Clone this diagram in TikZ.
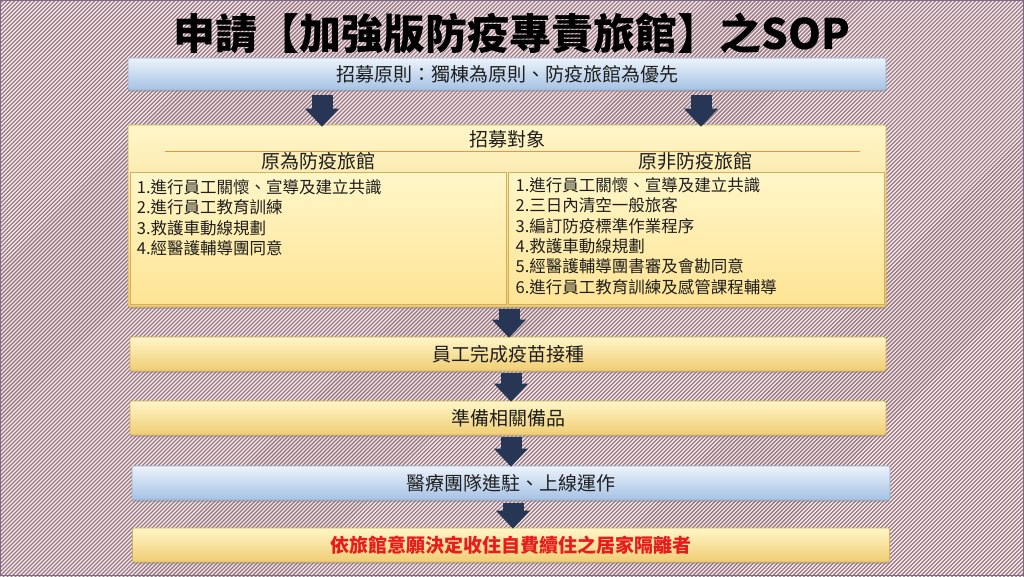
\documentclass[tikz,border=0pt]{standalone}
\usepackage{fontspec}
\setmainfont{Noto Sans CJK TC}
\usepackage{xcolor}
\usepackage{tikz}
\usetikzlibrary{positioning, patterns.meta, shadows, arrows.meta}

\definecolor{fondclair}{RGB}{250,236,238}
\definecolor{fondraye}{RGB}{150,120,128}
\definecolor{cadre}{RGB}{125,105,135}
\definecolor{jauneA}{RGB}{255,246,200}
\definecolor{jauneB}{RGB}{254,228,148}
\definecolor{jauneC}{RGB}{240,205,115}
\definecolor{jauneBord}{RGB}{212,175,90}
\definecolor{bleuA}{RGB}{236,243,251}
\definecolor{bleuB}{RGB}{204,222,241}
\definecolor{bleuC}{RGB}{165,194,228}
\definecolor{bleuBord}{RGB}{150,175,208}
\definecolor{marine}{RGB}{38,54,84}
\definecolor{texte}{RGB}{30,30,30}
\definecolor{rouge}{RGB}{232,28,28}
\definecolor{orange}{RGB}{228,150,70}

\begin{document}
\begin{tikzpicture}[node distance=64pt, on grid,
    boite/.style={draw=jauneBord, line width=.6pt, rounded corners=2pt, top color=jauneA,
        middle color=jauneB, bottom color=jauneC, minimum height=34pt, text=texte,
        drop shadow={shadow xshift=0pt, shadow yshift=-2pt, opacity=.4}},
    boitebleue/.style={boite, draw=bleuBord, top color=bleuA, middle color=bleuB, bottom color=bleuC},
    interieur/.style={draw=jauneBord, line width=.8pt, top color=jauneA, bottom color=jauneB,
        minimum width=376pt, minimum height=132pt},
    liste/.style={anchor=north west, inner sep=0pt, align=left, text=texte,
        font=\fontsize{16.5}{20.3}\selectfont},
    normal/.style={font=\fontsize{19}{22}\selectfont},
    fleche/.style={color=marine, line width=21pt,
        -{Triangle[length=18pt,width=34pt,line width=0pt]}}]

    % Fond rayé
    \useasboundingbox (0,0) rectangle (1024pt,576pt);
    \fill[fondclair] (0,0) rectangle (1024pt,576pt);
    \fill[pattern={Lines[angle=45,distance=2.83pt,line width=1.3pt]}, pattern color=fondraye]
        (0,0) rectangle (1024pt,576pt);
    \draw[cadre, line width=1pt] (.5pt,.5pt) rectangle (1023.5pt,575.5pt);

    % Titre et principe
    \node (titre) at (512pt,543pt) {\fontsize{42}{50}\selectfont\bfseries 申請【加強版防疫專責旅館】之SOP};
    \node[boitebleue, normal, minimum width=758pt, minimum height=32pt] (principe) at (507pt,502pt)
        {招募原則：獨棟為原則、防疫旅館為優先};

    % Objet du recrutement
    \node[boite, minimum width=758pt, minimum height=182pt] (cible) at (507pt,360pt) {};
    \node[normal, text=texte] (entete) at ([yshift=-15pt]cible.north) {招募對象};
    \draw[orange, line width=.8pt] ([xshift=37pt,yshift=-27pt]cible.north west)
        -- ([xshift=-26pt,yshift=-27pt]cible.north east);
    \node[interieur, anchor=south west] (gauche) at ([xshift=2pt,yshift=2pt]cible.south west) {};
    \node[interieur, anchor=south east] (droite) at ([xshift=-2pt,yshift=2pt]cible.south east) {};
    \node[normal, text=texte] (deja) at ([yshift=11pt]gauche.north) {原為防疫旅館};
    \node[normal, text=texte] (nondeja) at ([yshift=11pt]droite.north) {原非防疫旅館};
    \node[liste] (listeg) at ([xshift=7pt,yshift=-7pt]gauche.north west)
        {1.進行員工關懷、宣導及建立共識\\2.進行員工教育訓練\\3.救護車動線規劃\\4.經醫護輔導團同意};
    \node[liste] (listed) at ([xshift=8pt,yshift=-5pt]droite.north west)
        {1.進行員工關懷、宣導及建立共識\\2.三日內清空一般旅客\\3.編訂防疫標準作業程序\\4.救護車動線規劃\\
         5.經醫護輔導團書審及會勘同意\\6.進行員工教育訓練及感管課程輔導};

    % Étapes suivantes
    \node[boite, normal, minimum width=756pt, below=138pt of cible, xshift=1pt] (vaccin) {員工完成疫苗接種};
    \node[boite, normal, minimum width=756pt, below=of vaccin] (materiel) {準備相關備品};
    \node[boitebleue, normal, minimum width=758pt, below=65pt of materiel, xshift=3pt] (equipe) {醫療團隊進駐、上線運作};
    \node[boite, minimum width=757pt, below=62pt of equipe,
        font=\fontsize{19}{22}\selectfont\bfseries, text=rouge] (accueil) {依旅館意願決定收住自費續住之居家隔離者};

    % Flèches
    \path[fleche]
    ([xshift=-185pt,yshift=-5pt]principe.south) edge ([xshift=-185pt,yshift=-2pt]cible.north)
    ([xshift=194pt,yshift=-5pt]principe.south) edge ([xshift=194pt,yshift=-2pt]cible.north)
    ([xshift=2pt,yshift=-2pt]cible.south) edge ([xshift=1pt,yshift=-1pt]vaccin.north)
    ([xshift=3pt,yshift=-2pt]vaccin.south) edge ([xshift=3pt,yshift=-1pt]materiel.north)
    ([xshift=3pt,yshift=-2pt]materiel.south) edge ([yshift=-1pt]equipe.north)
    ([xshift=2pt,yshift=-3pt]equipe.south) edge ([xshift=2pt,yshift=-1pt]accueil.north);

\end{tikzpicture}
\end{document}
